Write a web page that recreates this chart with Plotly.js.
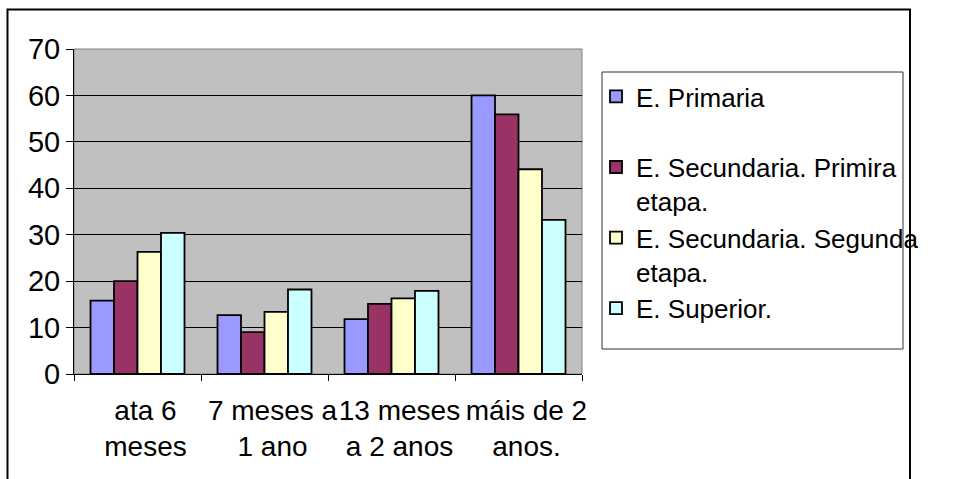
<!DOCTYPE html>
<html>
<head>
<meta charset="utf-8">
<script src="https://cdn.plot.ly/plotly-3.0.1.min.js"></script>
<style>html,body{margin:0;padding:0;background:#fff;}#chart{width:962px;height:479px;}</style>
</head>
<body>
<div id="chart"></div>
<script>
// Data
var categories = ["ata 6<br>meses", "7 meses a<br>1 ano", "13 meses<br>a 2 anos", "máis de 2<br>anos."];
var seriesNames = ["E. Primaria<br>\u00a0", "E. Secundaria. Primira<br>etapa.", "E. Secundaria. Segunda<br>etapa.", "E. Superior."];
var primaria   = [15.8, 12.7, 11.8, 60];
var secundaria1 = [20, 9, 15.1, 55.9];
var secundaria2 = [26.3, 13.4, 16.3, 44.1];
var superior   = [30.4, 18.2, 17.9, 33.2];
var yTicks = [0, 10, 20, 30, 40, 50, 60, 70];

var colors = ["#9999FF", "#993366", "#FFFFCC", "#CCFFFF"];
var values = [primaria, secundaria1, secundaria2, superior];

var traces = values.map(function (v, i) {
  return {
    type: "bar",
    x: categories,
    y: v,
    name: seriesNames[i],
    marker: {color: colors[i], line: {color: "#000000", width: 1.8}}
  };
});

// layout geometry (pixels)
var W = 962, H = 479;
var L = 74, R = 582, T = 49, B = 374;
function px(x) { return (x - L) / (R - L); }
function py(y) { return (B - y) / (B - T); }

var layout = {
  width: W, height: H,
  margin: {l: L, r: W - R, t: T, b: H - B, pad: 0},
  paper_bgcolor: "#ffffff",
  plot_bgcolor: "#C0C0C0",
  font: {family: "Liberation Sans, Arial, sans-serif", color: "#000000", size: 26},
  barmode: "group",
  bargap: 0.26,
  bargroupgap: 0,
  showlegend: true,
  legend: {
    x: px(596), xanchor: "left",
    y: py(73), yanchor: "top",
    bgcolor: "rgba(0,0,0,0)",
    borderwidth: 0,
    valign: "top",
    traceorder: "normal",
    font: {size: 26, color: "#000000"}
  },
  xaxis: {
    type: "category",
    showgrid: false,
    showline: true, linecolor: "#000000", linewidth: 1,
    ticks: "outside", tickson: "boundaries", ticklen: 6, tickcolor: "#000000", tickwidth: 1,
    tickangle: 0,
    ticklabelshift: 8,
    ticklabelstandoff: 11,
    tickfont: {size: 28},
    zeroline: false
  },
  yaxis: {
    range: [0, 70],
    tickvals: yTicks,
    ticktext: yTicks.map(String),
    showgrid: true, gridcolor: "#000000", gridwidth: 1,
    showline: true, linecolor: "#000000", linewidth: 1,
    ticks: "outside", ticklen: 7, tickcolor: "#000000",
    tickfont: {size: 29},
    zeroline: false
  },
  shapes: [
    // plot area border (gray)
    {type: "rect", xref: "paper", yref: "paper", x0: 0, x1: 1, y0: 0, y1: 1,
     line: {color: "#808080", width: 1}, fillcolor: "rgba(0,0,0,0)", layer: "below"},
    // legend box
    {type: "rect", xref: "paper", yref: "paper", x0: px(602), x1: px(903), y0: py(349), y1: py(72),
     line: {color: "#333333", width: 1}, fillcolor: "#ffffff", layer: "below"},
    // outer chart border
    {type: "rect", xref: "paper", yref: "paper", x0: px(7.5), x1: px(910), y0: py(495), y1: py(9.5),
     line: {color: "#000000", width: 2}, fillcolor: "rgba(0,0,0,0)", layer: "above"}
  ]
};

Plotly.newPlot("chart", traces, layout, {displayModeBar: false, staticPlot: true});
</script>
</body>
</html>
